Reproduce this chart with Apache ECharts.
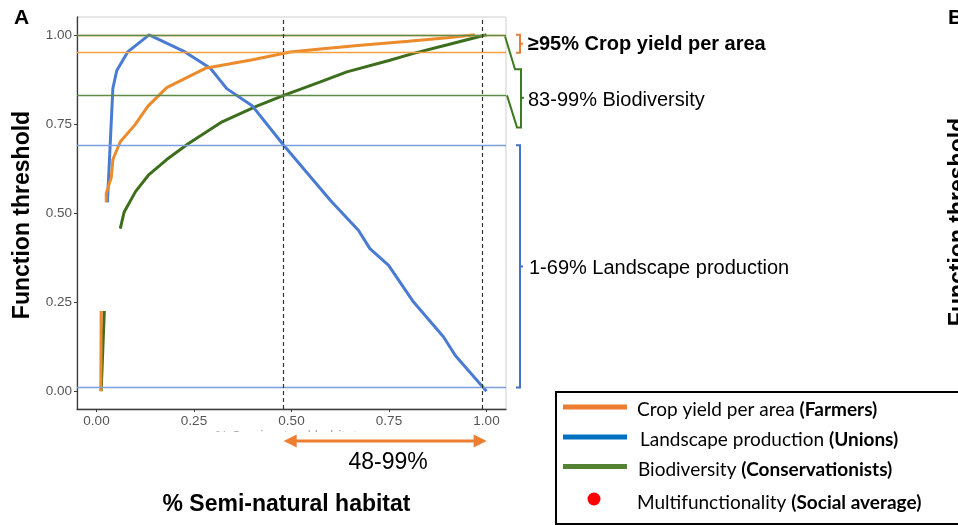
<!DOCTYPE html>
<html><head><meta charset="utf-8">
<script src="https://cdn.jsdelivr.net/npm/echarts@6/dist/echarts.min.js"></script>
<style>html,body{margin:0;padding:0;background:#fff}#c{width:958px;height:525px}</style>
</head><body><div id="c"></div>
<script>
// ---- data ----
const xTicks = [0, 0.25, 0.5, 0.75, 1];
const yTicks = [0, 0.25, 0.5, 0.75, 1];
const cropLow = [[0.011, 0.0], [0.012, 0.225]];
const bioLow = [[0.012, 0.0], [0.020, 0.225]];
const cropMain = [[0.025,0.53],[0.025,0.555],[0.038,0.60],[0.042,0.65],[0.061,0.70],[0.099,0.748],[0.132,0.80],[0.18,0.852],[0.279,0.906],[0.40,0.93],[0.497,0.952],[0.574,0.96],[0.67,0.97],[0.80,0.982],[0.90,0.992],[0.97,1.0]];
const landMain = [[0.028,0.53],[0.042,0.85],[0.052,0.90],[0.08,0.952],[0.135,1.0],[0.227,0.952],[0.292,0.906],[0.334,0.849],[0.40,0.80],[0.48,0.69],[0.60,0.535],[0.672,0.451],[0.701,0.40],[0.749,0.353],[0.813,0.25],[0.89,0.152],[0.92,0.10],[1.0,0.0]];
const bioMain = [[0.061,0.456],[0.066,0.48],[0.071,0.503],[0.10,0.56],[0.133,0.606],[0.18,0.65],[0.236,0.695],[0.322,0.756],[0.411,0.80],[0.48,0.83],[0.574,0.868],[0.642,0.896],[0.75,0.928],[0.813,0.948],[0.90,0.972],[1.0,1.0]];
const cropRange = [0.95, 1.00];
const bioRange = [0.83, 0.996];
const landRange = [0.01, 0.69];
const habitatRange = [0.48, 0.99];
const rangeLabels = ['≥95% Crop yield per area', '83-99% Biodiversity', '1-69% Landscape production', '48-99%'];
const legendItems = [
  ['Crop yield per area ', '(Farmers)'],
  ['Landscape production ', '(Unions)'],
  ['Biodiversity ', '(Conservationists)'],
  ['Multifunctionality ', '(Social average)']
];

// ---- colors ----
const C_ORANGE = '#EC8B2C', C_BLUE = '#4A7BD3', C_GREEN = '#3D6E1D';
const H_ORANGE = '#F3A13F', H_BLUE = '#7D9FE2', H_GREEN = '#5F8B48';

const chart = echarts.init(document.getElementById('c'), null, {renderer: 'canvas'});
const F = '"Liberation Sans", Arial, sans-serif';

function ls(name, data, color, z, extra) {
  return Object.assign({type: 'line', name, data, symbol: 'none', showSymbol: false, silent: true,
    lineStyle: {color, width: 3}, z, animation: false}, extra || {});
}
function hline(v, color) { return {yAxis: v, lineStyle: {color, width: 1.3, type: 'solid'}}; }
function vline(v) { return {xAxis: v, lineStyle: {color: '#333', width: 1.2, type: [4, 3]}}; }

chart.setOption({
  animation: false,
  backgroundColor: '#fff',
  grid: {left: 77, top: 17, width: 429, height: 392, show: true, borderColor: '#cfcfcf', borderWidth: 1},
  xAxis: {type: 'value', min: -0.05, max: 1.05, splitLine: {show: false},
    axisLine: {show: true, onZero: false, lineStyle: {color: '#3c3c3c', width: 1.3}},
    axisTick: {show: true, customValues: xTicks, length: 3, lineStyle: {color: '#3c3c3c'}},
    axisLabel: {customValues: xTicks, formatter: v => v.toFixed(2), color: '#555', fontSize: 13.5, fontFamily: F, margin: 5}},
  yAxis: {type: 'value', min: -0.05, max: 1.05, splitLine: {show: false},
    axisLine: {show: true, onZero: false, lineStyle: {color: '#3c3c3c', width: 1.3}},
    axisTick: {show: true, customValues: yTicks, length: 3, lineStyle: {color: '#3c3c3c'}},
    axisLabel: {customValues: yTicks, formatter: v => v.toFixed(2), color: '#555', fontSize: 13.5, fontFamily: F, margin: 5}},
  series: [
    ls('bioLow', bioLow, C_GREEN, 2),
    ls('bioMain', bioMain, C_GREEN, 2, {markLine: {silent: true, symbol: 'none', label: {show: false}, animation: false,
      data: [hline(cropRange[1], H_ORANGE), hline(cropRange[0], H_ORANGE), hline(bioRange[1], H_GREEN), hline(bioRange[0], H_GREEN),
             hline(landRange[1], H_BLUE), hline(landRange[0], H_BLUE), vline(habitatRange[0]), vline(habitatRange[1])]}}),
    ls('landMain', landMain, C_BLUE, 3),
    ls('cropLow', cropLow, C_ORANGE, 4),
    ls('cropMain', cropMain, C_ORANGE, 4)
  ]
});

const px = v => chart.convertToPixel({gridIndex: 0}, [v, 0])[0];
const py = v => chart.convertToPixel({gridIndex: 0}, [0, v])[1];
const R = px(1.05);
const g = [];
function poly(points, color, w) { g.push({type: 'polyline', shape: {points}, style: {stroke: color, lineWidth: w || 2, fill: null}, silent: true}); }
function txt(text, x, y, font, fill, align, extra) {
  g.push(Object.assign({type: 'text', x, y, silent: true, style: {text, x: 0, y: 0, font, fill: fill || '#000', align: align || 'left', verticalAlign: 'middle'}}, extra || {}));
}
// orange bracket
{
  const a = py(cropRange[1]), b = py(cropRange[0]), m = (a + b) / 2;
  poly([[R + 10, a], [R + 14, a], [R + 14, b], [R + 10, b]], '#ED7D31');
  poly([[R + 14, m], [R + 17, m]], '#ED7D31');
  txt(rangeLabels[0], R + 22, m + 1, 'bold 20px ' + F);
}
// green bracket (shifted down)
{
  const a = py(bioRange[1]), b = py(bioRange[0]), s = 32, m = (a + b) / 2 + s;
  poly([[R - 1, a], [R + 9, a + s + 1], [R + 15, a + s + 1], [R + 15, b + s], [R + 11, b + s], [R + 1, b]], '#3E7A22');
  poly([[R + 15, m], [R + 18, m]], '#3E7A22');
  txt(rangeLabels[1], R + 22, m + 3, '20px ' + F);
}
// blue bracket
{
  const a = py(landRange[1]), b = py(landRange[0]), m = (a + b) / 2;
  poly([[R + 10, a], [R + 14, a], [R + 14, b], [R + 10, b]], '#4472C4');
  poly([[R + 14, m], [R + 17, m]], '#4472C4');
  txt(rangeLabels[2], R + 23, m + 2, '20px ' + F);
}
// faint hidden original axis title
txt('% Semi-natural habitat', 286, 437, '14px ' + F, '#a8a8a8', 'center');
g.push({type: 'rect', shape: {x: 150, y: 432, width: 300, height: 14}, style: {fill: '#fff'}, silent: true});
// double arrow
{
  const L = px(habitatRange[0]), Rr = px(habitatRange[1]) + 4, y = 441;
  poly([[L + 10, y], [Rr - 10, y]], '#ED7D31', 3);
  g.push({type: 'polygon', shape: {points: [[L, y], [L + 13, y - 6.5], [L + 13, y + 6.5]]}, style: {fill: '#ED7D31'}, silent: true});
  g.push({type: 'polygon', shape: {points: [[Rr, y], [Rr - 13, y - 6.5], [Rr - 13, y + 6.5]]}, style: {fill: '#ED7D31'}, silent: true});
  txt(rangeLabels[3], (L + Rr) / 2 + 3, 463, '23px ' + F, '#000', 'center');
}
// titles
txt('% Semi-natural habitat', 286.5, 505, 'bold 23px ' + F, '#000', 'center');
txt('Function threshold', 23, 215, 'bold 23px ' + F, '#000', 'center', {rotation: Math.PI / 2});
txt('Function threshold', 959, 222, 'bold 23px ' + F, '#000', 'center', {rotation: Math.PI / 2});
txt('A', 14, 18, 'bold 21px ' + F);
txt('B', 948, 18, 'bold 21px ' + F);
// legend
g.push({type: 'rect', shape: {x: 556, y: 392, width: 420, height: 132}, style: {fill: 'none', stroke: '#000', lineWidth: 2}, silent: true});
const legColors = ['#ED7D31', '#0070C0', '#548235'];
const legY = [407, 437, 466.5];
const txtY = [410, 439.5, 469.5, 503];
const txtX = [637, 640, 638, 637];
legColors.forEach((c, i) => poly([[563, legY[i]], [627, legY[i]]], c, 5));
g.push({type: 'circle', shape: {cx: 594, cy: 499, r: 6.5}, style: {fill: '#FF0000'}, silent: true});
legendItems.forEach((it, i) => {
  g.push({type: 'text', x: txtX[i], y: txtY[i], silent: true, style: {
    text: '{n|' + it[0] + '}{b|' + it[1] + '}', x: 0, y: 0, align: 'left', verticalAlign: 'middle',
    rich: {n: {fontFamily: 'Lato', fontSize: 19, fill: '#000', color: '#000'}, b: {fontFamily: 'Lato', fontSize: 19, fontWeight: 'bold', fill: '#000', color: '#000'}}}});
});
chart.setOption({graphic: g});
</script></body></html>
